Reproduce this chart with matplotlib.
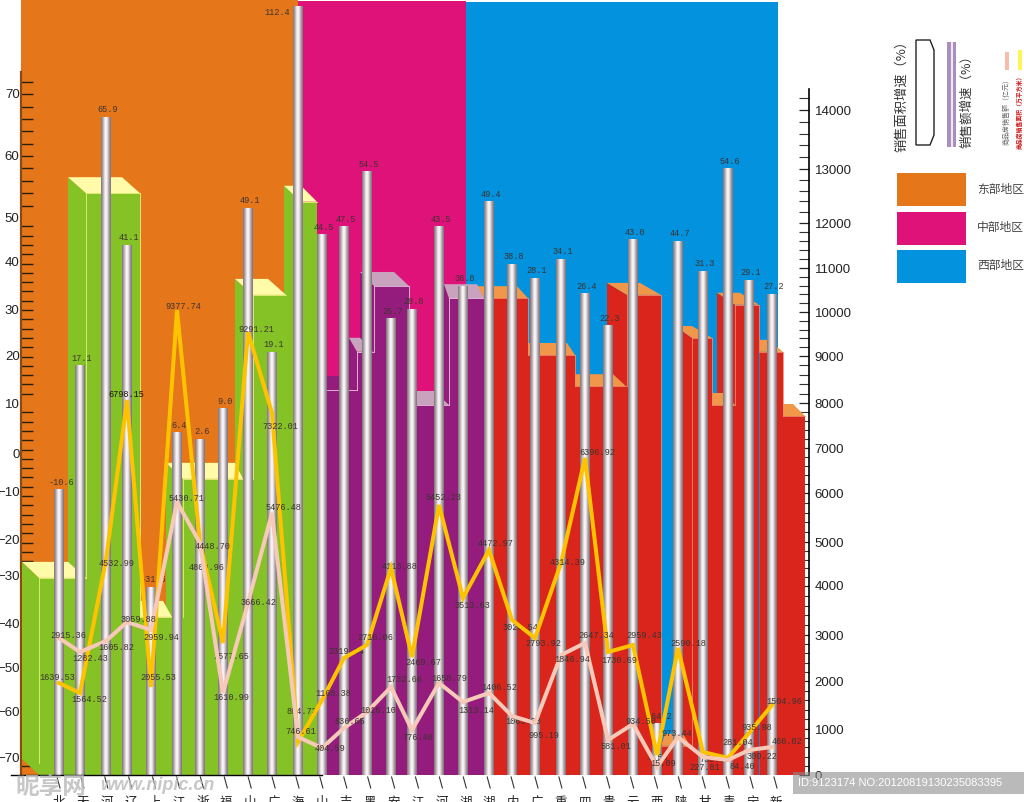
import numpy as np
import matplotlib
matplotlib.use("Agg")
import matplotlib.pyplot as plt
from matplotlib.colors import LinearSegmentedColormap
from matplotlib.patches import Polygon, Rectangle

plt.rcParams["font.family"] = ["Liberation Sans", "Noto Sans CJK SC"]
CJK = ["Noto Sans CJK SC", "DejaVu Sans"]

categories = ["北", "天", "河", "辽", "上", "江", "浙", "福", "山", "广", "海",
              "山", "吉", "黑", "安", "江", "河", "湖", "湖",
              "内", "广", "重", "四", "贵", "云", "西", "陕", "甘", "青", "宁", "新"]

# 销售额增速: 柱子高度按左轴读出, 标签是图上写的数
growth_read = [-9.5, 17.9, 66.2, 43.8, -32.3, 4.2, 2.8, 9.0, 51.5, 20.7, 83.8,
               46.2, 48.0, 57.5, 28.0, 30.0, 48.0, 34.9, 52.6,
               39.6, 36.6, 40.7, 33.4, 26.5, 45.1, -62.6, 44.7, 38.1, 58.0, 36.2, 33.2]
growth_text = ["-10.6", "17.1", "65.9", "41.1", "-31.6", "6.4", "2.6", "9.0", "49.1", "19.1", "112.4",
               "44.5", "47.5", "54.5", "25.7", "28.8", "43.5", "36.8", "49.4",
               "38.8", "28.1", "34.1", "26.4", "22.3", "43.0", "-64.2", "44.7", "31.3", "54.6", "29.1", "27.2"]

# 商品房销售面积 (黄线), 商品房销售额 (粉线), 按右轴读出
area_read = [1958, 1750, 4590, 8064, 1875, 10045, 4977, 2826, 9545, 7778, 717,
             1604, 2500, 2783, 4409, 2522, 5755, 3755, 4818,
             3306, 2935, 4523, 6778, 2630, 2783, 435, 2717, 500, 370, 913, 1500]
area_text = ["1639.53", "1564.52", "4532.99", "6798.15", "2055.53", "9377.74", "4448.70", "2577.65",
             "9291.21", "7322.01", "894.73", "1168.38", "2319.64", "2716.06", "4113.88", "2469.67",
             "5452.23", "3513.63", "4472.97", "3020.54", "2793.92", "4314.39", "6396.92", "1730.69",
             "2959.43", "5.56", "2590.18", "735.39", "281.04", "935.98", "1504.96"]
sales_read = [2935, 2630, 2870, 3265, 3102, 5816, 4977, 1750, 3653, 5592, 826,
              587, 1021, 1354, 1875, 978, 1958, 1563, 1750,
              1271, 1125, 2565, 2826, 761, 1104, 174, 826, 391, 326, 543, 609]
sales_text = ["2915.36", "1282.43", "1605.82", "3059.88", "2959.94", "5430.71", "4809.96", "1610.99",
              "3666.42", "5476.48", "746.61", "404.59", "836.65", "1016.10", "1732.66", "776.40",
              "1658.79", "1313.14", "1406.52", "1065.03", "995.19", "1846.94", "2647.34", "581.01",
              "934.50", "15.09", "973.44", "227.81", "84.40", "309.22", "466.02"]
# 这几个标签在原图里被折线压住
under_line = ["894.73", "2577.65", "3020.54", "1065.03", "4809.96", "2319.64", "4113.88", "735.39", "5.56"]

# 销售面积增速 (三维台阶柱), 按左轴读出
east_area = [-30.4, 53.9, -38.7, -6.8, 33.0, 52.5]
central_area = [12.7, 20.7, 34.9, 9.6, 32.3]
west_area = [32.3, 20.0, 13.5, 33.0, -67.4, 23.7, 9.6, 30.9, 20.7, 7.4]

# 左右轴的刻度在图上不等距
left_vals = [-73.6, -70, -60, -50, -40, -30, -20, -10, 0, 10, 20, 30, 40, 50, 60, 70, 84.8]
left_pos = [775, 758, 711, 667, 623, 576, 539, 491, 453, 403, 355, 309, 262, 217, 156, 93, 0]
right_vals = [0, 1000, 2000, 3000, 4000, 5000, 6000, 7000, 8000, 9000, 10000, 11000, 12000, 13000, 14000, 15864]
right_pos = [775, 729, 681, 635, 586, 542, 493, 448, 403, 356, 312, 268, 223, 169, 110, 0]

# 布局: 横轴单位就是像素
tube_x = [59, 80, 106, 127, 151, 177, 200, 223, 248, 272, 298,
          322, 344, 367, 391, 412, 439, 463, 489,
          512, 535, 561, 585, 608, 633, 657, 678, 703, 728, 749, 772]
cat_x = np.linspace(59, 776, 31)

east_geom = dict(left=[39, 86, 140, 183, 253, 301], right=[86, 140, 172, 243, 286, 317],
                 back_l=[22, 68, 140, 166, 235, 284], back_r=[68, 122, 163, 235, 268, 301])
central_geom = dict(left=[327, 357, 374, 417, 449], right=[357, 373, 409, 449, 484],
                    back_l=[317, 349, 360, 409, 444], back_r=[349, 360, 394, 434, 477])
west_geom = dict(left=[484, 528, 575, 627, 661, 692, 712, 735, 760, 783],
                 right=[528, 575, 626, 661, 690, 712, 735, 759, 783, 805],
                 back_l=[477, 528, 575, 607, 665, 675, 712, 717, 760, 783],
                 back_r=[517, 567, 613, 640, 683, 692, 723, 740, 768, 793])

# 每个标签相对折点的偏移 (像素)
area_off = [(-2, 6), (9, -7), (11, -3), (-1, 5), (7, 9), (6, 4), (13, -3), (8, -13), (8, 3), (8, -14), (4, 31),
            (11, 7), (2, 6), (8, 7), (9, 2), (11, -6), (4, 8), (9, -7), (7, 7),
            (8, -7), (8, -6), (7, 0), (12, 5), (11, -8), (11, 9), (1, -3), (10, 5), (12, -7), (10, 15), (8, 6), (12, 3)]
sales_off = [(9, 2), (10, -6), (10, -7), (11, 3), (10, -7), (9, 4), (7, -24), (8, -5), (10, 1), (11, 5), (3, 6),
             (8, -1), (6, 6), (11, 2), (13, 8), (6, -7), (10, 5), (13, -9), (10, 6),
             (11, -6), (9, -12), (11, -4), (11, 8), (8, -7), (8, 3), (6, 3), (-1, 4), (2, -10), (14, -6), (13, -6), (15, 5)]

ORANGE, PINK, BLUE = "#E5771A", "#DF1279", "#0292DE"
GREEN, PURPLE, RED = "#85C226", "#931C7C", "#DA251C"
YELLOW_LINE, PINK_LINE = "#FDC300", "#F7C9B8"
LABEL_COLOR = "#3c3430"


def left_fwd(v):
    return np.interp(v, left_vals, 775 - np.array(left_pos, dtype=float))


def left_inv(h):
    return np.interp(h, 775 - np.array(left_pos, dtype=float), left_vals)


def right_fwd(v):
    return np.interp(v, right_vals, 775 - np.array(right_pos, dtype=float))


def right_inv(h):
    return np.interp(h, 775 - np.array(right_pos, dtype=float), right_vals)


fig = plt.figure(figsize=(10.24, 8.02), dpi=100)
ax = fig.add_axes([21 / 1024, 27 / 802, 788 / 1024, 775 / 802])
ax_r = ax.twinx()
ax_r.set_zorder(1)
ax.set_zorder(2)
ax.patch.set_visible(False)
ax_r.patch.set_visible(False)

ax.set_yscale("function", functions=(left_fwd, left_inv))
ax_r.set_yscale("function", functions=(right_fwd, right_inv))
ax.set_xlim(21, 809)
ax.set_ylim(left_vals[0], left_vals[-1])
ax_r.set_ylim(right_vals[0], right_vals[-1])
y0 = left_vals[0]

# 三个地区的底色
panel_left = [21, 298, 466]
panel_right = [298, 466, 778]
panel_top = [84.8, 84.6, 84.5]
for l, r, t, c in zip(panel_left, panel_right, panel_top, [ORANGE, PINK, BLUE]):
    ax.bar(l, t - y0, r - l, bottom=y0, align="edge", color=c, lw=0, zorder=1)


def draw_steps(geom, values, rise, face, top_colors, edge, slant_first=False):
    for i, v in enumerate(values):
        l, r, bl, br = geom["left"][i], geom["right"][i], geom["back_l"][i], geom["back_r"][i]
        back = left_inv(left_fwd(v) + rise)
        # 只有最左边那根柱子的侧面底下是斜的
        low = left_inv(rise) if (slant_first and i == 0) else y0
        ax.fill([bl, l, l, bl], [back, v, y0, low], color=face, lw=0, zorder=3)
        ax.bar(l, v - y0, r - l, bottom=y0, align="edge", color=face, lw=0, zorder=3)
        ax.fill([bl, br, r, l], [back, back, v, v], color=top_colors[i], lw=0, zorder=3.5)
        ax.plot([l, r], [v, v], color=edge, lw=0.6, zorder=3.6)
        if i == 0:
            if slant_first:
                ax.plot([l, l], [v, left_inv(12)], color=edge, lw=0.6, zorder=3.6)
        elif v > values[i - 1]:
            ax.plot([l, l], [v, values[i - 1]], color=edge, lw=0.6, zorder=3.6)
        else:
            ax.plot([geom["right"][i - 1]] * 2, [values[i - 1], v], color=edge, lw=0.6, zorder=3.6)


draw_steps(west_geom, west_area, 12, RED, ["#F0974A"] * 10, "#EE8A6E")
draw_steps(central_geom, central_area, 14, PURPLE, [PURPLE] + ["#C9A2BE"] * 4, "#E8C8E0")
draw_steps(east_geom, east_area, 16, GREEN, ["#FFFBA8"] * 6, "#E6F27E", slant_first=True)

# 圆柱
tube_cmap = LinearSegmentedColormap.from_list(
    "tube", ["#8a8084", "#b5acb0", "#efe9ec", "#ffffff", "#ece5ea", "#b0a6ac", "#857b80"])
shade = np.linspace(0, 1, 11)[None, :]
for x, top in zip(tube_x, growth_read):
    ax.pcolormesh(np.linspace(x - 5, x + 5, 12), [y0, top], shade, cmap=tube_cmap,
                  vmin=0, vmax=1, zorder=5)

for i, (x, top, s) in enumerate(zip(tube_x, growth_read, growth_text)):
    ax.annotate(s, (x, top), xytext=(-21 if i == 10 else 2, -6 if i == 10 else 7),
                textcoords="offset pixels", ha="center", va="center", fontsize=6.2,
                family="Liberation Mono", color=LABEL_COLOR, zorder=5.5)

# 两条折线用右轴的刻度, 但要盖在圆柱上面
ax.plot(tube_x, area_read, color=YELLOW_LINE, lw=2.9, solid_joinstyle="miter",
        transform=ax_r.transData, zorder=6)
ax.plot(tube_x, sales_read, color=PINK_LINE, lw=2.9, solid_joinstyle="miter",
        transform=ax_r.transData, zorder=7)

for vals, texts, offs in [(area_read, area_text, area_off), (sales_read, sales_text, sales_off)]:
    for x, v, s, off in zip(tube_x, vals, texts, offs):
        ax.annotate(s, (x, v), xycoords=ax_r.transData, xytext=off, textcoords="offset pixels",
                    ha="center", va="center", fontsize=6.2, family="Liberation Mono",
                    color="#111111" if s == "6798.15" else LABEL_COLOR,
                    zorder=5.5 if s in under_line else 8)

# 左轴
ax.set_yticks(np.arange(-70, 71, 10))
mark_px = np.concatenate([np.arange(82, 217, 12.35), np.arange(217, 775, 9.3)])
ax.set_yticks(left_inv(775 - mark_px), minor=True)
ax.tick_params(axis="y", which="major", length=0, pad=1, labelsize=9.5, labelcolor="#222222")
ax.tick_params(axis="y", which="minor", direction="in", length=8.6, width=1, color="#2a2010")
ax.spines["left"].set_bounds(y0, 73.4)
ax.spines["left"].set_color("#8a4a10")
ax.spines["left"].set_linewidth(1.6)
for side in ["top", "right", "bottom"]:
    ax.spines[side].set_visible(False)

# 右轴
ax_r.set_yticks(np.arange(0, 14001, 1000))
ax_r.set_yticks(np.arange(0, 14351, 200), minor=True)
ax_r.tick_params(axis="y", which="major", direction="in", length=7.5, width=0.9, pad=4,
                 labelsize=9.5, labelcolor="#222222", color="#222222")
ax_r.tick_params(axis="y", which="minor", direction="in", length=7.5, width=0.8, color="#333333")
ax_r.spines["right"].set_bounds(0, 14350)
ax_r.spines["right"].set_linewidth(1.2)
for side in ["top", "left", "bottom"]:
    ax_r.spines[side].set_visible(False)

# 横轴: 斜的短刻度, 省份字只露出上半
ax.set_xticks(cat_x, categories, family=CJK, fontsize=9)
ax.tick_params(axis="x", length=0, pad=15, labelcolor="#222222")
for x in cat_x:
    ax.plot([x - 2, x + 1], [-2 / 775, -13 / 775], transform=ax.get_xaxis_transform(),
            color="#333333", lw=0.8, clip_on=False)

# 右边的图例, 水印
leg = fig.add_axes([0, 0, 1, 1])
leg.set_xlim(0, 1024)
leg.set_ylim(802, 0)
leg.set_axis_off()
leg.set_zorder(10)
leg.plot([11, 322], [775, 775], color="black", lw=1)

leg.add_patch(Polygon([(916, 40), (930, 40), (934, 50), (934, 135), (930, 145), (916, 145)],
                      closed=True, fc="white", ec="#222222", lw=1))
leg.add_patch(Rectangle((947, 42), 9, 105, fc="#A98FBE", lw=0))
leg.add_patch(Rectangle((950.5, 42), 2, 105, fc="#F0E8F4", lw=0))
leg.add_patch(Rectangle((1005, 52), 3.5, 18, fc="#F7BDA8", lw=0))
leg.add_patch(Rectangle((1018, 50), 3.5, 20, fc="#FFF35A", lw=0))
leg.text(902, 93, "销售面积增速（%）", rotation=90, ha="center", va="center", family=CJK,
         fontsize=9.5, color="#333333")
leg.text(967, 98, "销售额增速（%）", rotation=90, ha="center", va="center", family=CJK,
         fontsize=9, color="#333333")
leg.text(1007, 110, "商品房销售额（亿元）", rotation=90, ha="center", va="center", family=CJK,
         fontsize=5, color="#666666")
leg.text(1019.5, 111, "商品房销售面积（万平方米）", rotation=90, ha="center", va="center", family=CJK,
         fontsize=4.2, color="#cc1010", fontweight="bold")

for y, c, s in [(173, ORANGE, "东部地区"), (212, PINK, "中部地区"), (250, BLUE, "西部地区")]:
    leg.add_patch(Rectangle((897, y), 69, 32.5, fc=c, lw=0))
    leg.text(977, y + 16, s, ha="left", va="center", family=CJK, fontsize=8.5, color="#444444")

leg.text(15, 787, "昵享网", family=CJK, fontsize=17, fontweight="bold", color="#bdbdbd", alpha=0.85,
         ha="left", va="center")
leg.text(100, 785, "www.nipic.cn", fontsize=13, style="italic", fontweight="bold", color="#bdbdbd",
         alpha=0.85, ha="left", va="center")
leg.add_patch(Rectangle((793, 772), 231, 22, fc="#8c8c8c", alpha=0.6, lw=0))
leg.text(798, 783, "ID:9123174 NO:20120819130235083395", fontsize=8, color="white", ha="left", va="center")

fig.savefig("out.png", dpi=100)
